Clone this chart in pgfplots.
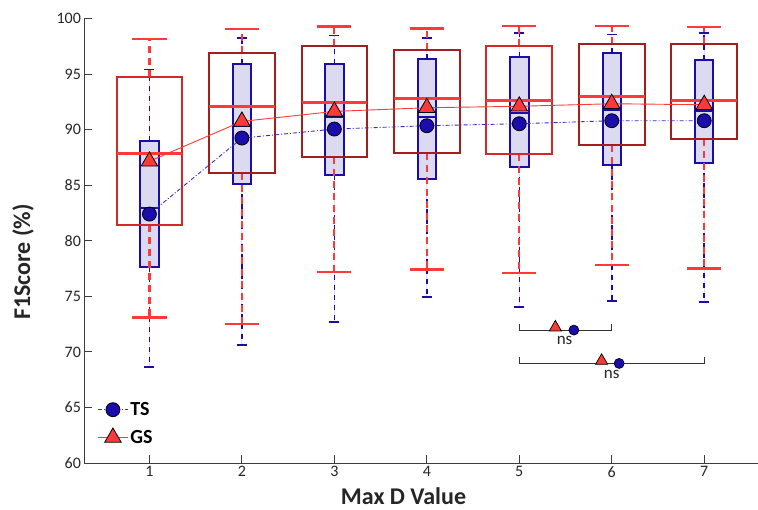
\documentclass[border=0pt]{standalone}
\usepackage{fontspec}
\setmainfont{Carlito}
\usepackage{pgfplots}
\pgfplotsset{compat=1.18}
\usepgfplotslibrary{statistics}
\definecolor{tsblue}{HTML}{1A0DAB}
\definecolor{tsline}{HTML}{3A2CC8}
\definecolor{tsfill}{HTML}{DCDAF0}
\definecolor{gsred}{HTML}{FF3838}
\definecolor{gsdark}{HTML}{A31E1E}
\definecolor{gsmid}{HTML}{D22828}
\definecolor{axisgray}{HTML}{3C3C3C}

\pgfplotsset{
  boxplot/draw/lower whisker/.code={
    \draw[/pgfplots/boxplot/every whisker/.try]
      (boxplot box cs:\pgfplotsboxplotvalue{lower quartile},0.5) --
      (boxplot box cs:\pgfplotsboxplotvalue{lower whisker},0.5);
    \draw[/pgfplots/boxplot/every whisker/.try, solid]
      (boxplot whisker cs:\pgfplotsboxplotvalue{lower whisker},0) --
      (boxplot whisker cs:\pgfplotsboxplotvalue{lower whisker},1);
  },
  boxplot/draw/upper whisker/.code={
    \draw[/pgfplots/boxplot/every whisker/.try]
      (boxplot box cs:\pgfplotsboxplotvalue{upper quartile},0.5) --
      (boxplot box cs:\pgfplotsboxplotvalue{upper whisker},0.5);
    \draw[/pgfplots/boxplot/every whisker/.try, solid]
      (boxplot whisker cs:\pgfplotsboxplotvalue{upper whisker},0) --
      (boxplot whisker cs:\pgfplotsboxplotvalue{upper whisker},1);
  },
  tsbox/.style n args={6}{
    boxplot prepared={draw position=#1, lower whisker=#2, lower quartile=#3,
      median=#4, upper quartile=#5, upper whisker=#6,
      box extend=0.2, whisker extend=0.11},
    draw=tsblue, line width=2pt, fill=tsfill, forget plot,
    boxplot/every whisker/.style={tsblue, dash pattern=on 5pt off 5pt, line width=1.5pt},
    boxplot/every median/.style={tsblue, line width=2pt},
  },
  gsbox/.style n args={7}{
    boxplot prepared={draw position=#1, lower whisker=#2, lower quartile=#3,
      median=#4, upper quartile=#5, upper whisker=#6,
      box extend=0.71, whisker extend=0.37},
    draw=#7, line width=2pt, fill=none, forget plot,
    boxplot/every whisker/.style={gsred, dash pattern=on 7pt off 5pt, line width=2.2pt},
    boxplot/every median/.style={gsred, line width=3.2pt},
  },
}

\begin{document}
\begin{tikzpicture}
\path[use as bounding box] (-84.5pt,-46pt) rectangle (673.5pt,463pt);
\begin{axis}[
  scale only axis, width=673pt, height=444.5pt,
  xmin=0.298, xmax=7.576, ymin=60, ymax=100,
  boxplot/draw direction=y,
  axis lines*=left,
  axis line style={axisgray, line width=1pt},
  tick align=inside, major tick length=8pt,
  tick style={axisgray, line width=1pt},
  xtick={1,...,7}, ytick={60,65,...,100},
  ticklabel style={font=\fontsize{16}{19}\selectfont, text=black!85},
  /pgf/number format/assume math mode=true,
  xlabel={Max D Value}, ylabel={F1Score (\%)},
  label style={font=\bfseries\fontsize{24}{28}\selectfont, text=black!85},
  xlabel style={at={(axis description cs:0.474,-0.094)}, anchor=base, inner sep=0pt},
  ylabel style={at={(axis description cs:-0.0914,0.452)}, anchor=center},
  legend style={at={(axis description cs:0.019,0.036)}, anchor=south west,
    draw=none, fill=none, inner sep=0pt, row sep=9pt,
    font=\bfseries\fontsize{20}{24}\selectfont, cells={anchor=west}},
  legend image code/.code={\draw[#1, mark repeat=2, mark phase=2]
    plot coordinates {(0pt,0pt) (15pt,0pt) (30pt,0pt)};},
  clip=false,
]
% TS boxes
\addplot[tsbox={1}{68.65}{77.65}{82.95}{88.97}{95.4}] coordinates {};
\addplot[tsbox={2}{70.6}{85.14}{90.3}{95.9}{98.26}] coordinates {};
\addplot[tsbox={3}{72.7}{85.95}{91.1}{95.9}{98.47}] coordinates {};
\addplot[tsbox={4}{74.95}{85.6}{91.17}{96.4}{98.26}] coordinates {};
\addplot[tsbox={5}{74.05}{86.65}{91.5}{96.58}{98.7}] coordinates {};
\addplot[tsbox={6}{74.56}{86.8}{91.75}{96.9}{98.56}] coordinates {};
\addplot[tsbox={7}{74.47}{87.0}{91.7}{96.26}{98.68}] coordinates {};
% GS boxes
\addplot[gsbox={1}{73.1}{81.46}{87.84}{94.76}{98.17}{gsmid}] coordinates {};
\addplot[gsbox={2}{72.5}{86.13}{92.06}{96.89}{99.04}{gsdark}] coordinates {};
\addplot[gsbox={3}{77.2}{87.57}{92.42}{97.57}{99.28}{gsdark}] coordinates {};
\addplot[gsbox={4}{77.41}{87.93}{92.78}{97.2}{99.1}{gsdark}] coordinates {};
\addplot[gsbox={5}{77.08}{87.8}{92.6}{97.57}{99.31}{gsmid}] coordinates {};
\addplot[gsbox={6}{77.8}{88.62}{92.96}{97.72}{99.31}{gsdark}] coordinates {};
\addplot[gsbox={7}{77.5}{89.2}{92.6}{97.75}{99.22}{gsdark}] coordinates {};
% means
\addplot[tsline, line width=0.9pt, dash pattern=on 4pt off 2pt on 1pt off 2pt,
  mark=*, mark size=7pt, mark options={solid, fill=tsblue, draw=black, line width=0.8pt}]
  coordinates {(1,82.4) (2,89.24) (3,90.05) (4,90.35) (5,90.53) (6,90.8) (7,90.8)};
\addlegendentry{TS}
\addplot[gsred, line width=0.9pt,
  mark=triangle*, mark size=9.5pt, mark options={solid, fill=gsred, draw=black, line width=0.8pt}]
  coordinates {(1,87.15) (2,90.74) (3,91.64) (4,91.97) (5,92.1) (6,92.33) (7,92.24)};
\addlegendentry{GS}
% significance brackets
\addplot[black!80, line width=1pt, forget plot]
  coordinates {(5,72.5) (5,71.96) (6,71.96) (6,72.5)};
\addplot[black!80, line width=1pt, forget plot]
  coordinates {(5,69.5) (5,68.96) (7,68.96) (7,69.5)};
\addplot[only marks, mark=triangle*, mark size=7pt,
  mark options={fill=gsred, draw=black, line width=0.7pt}, forget plot]
  coordinates {(5.39,72.2) (5.89,69.2)};
\addplot[only marks, mark=*, mark size=5pt,
  mark options={fill=tsblue, draw=black, line width=0.7pt}, forget plot]
  coordinates {(5.59,71.96) (6.08,68.96)};
\node[font=\fontsize{17}{20}\selectfont, text=black!85] at (axis cs:5.49,71.05) {ns};
\node[font=\fontsize{17}{20}\selectfont, text=black!85] at (axis cs:6.0,67.95) {ns};
\end{axis}
\end{tikzpicture}
\end{document}
